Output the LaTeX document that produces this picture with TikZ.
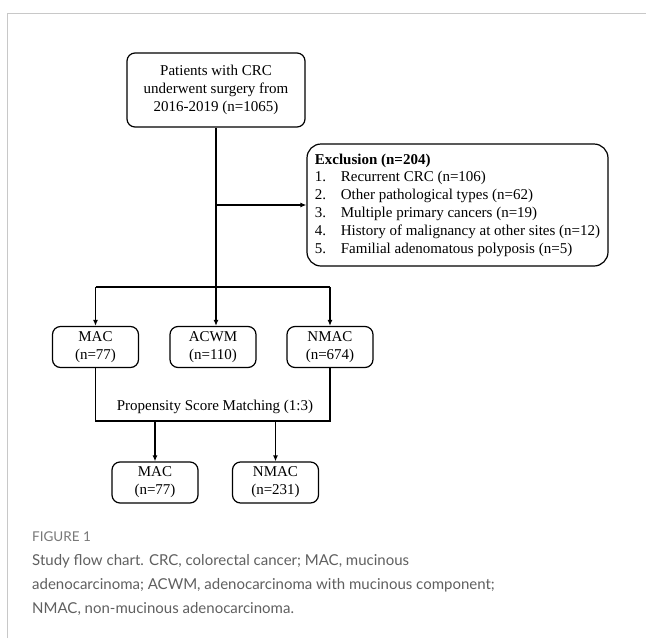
\documentclass[tikz,border=0pt]{standalone}
\usepackage{fontspec}
\setmainfont{Liberation Serif}
\newfontfamily\capfont{Lato}
\usetikzlibrary{positioning}
\usetikzlibrary{arrows.meta}

\definecolor{framegray}{RGB}{200,200,200}
\definecolor{capgray}{RGB}{95,95,95}
\definecolor{figgray}{RGB}{120,120,120}

\newcommand{\exitem}[2]{\makebox[26pt][l]{#1}#2}

\tikzset{
 flowbox/.style={draw, line width=1.2pt, rounded corners=8pt, align=center,
   minimum width=86pt, minimum height=41pt, inner sep=2pt,
   font=\fontsize{15}{18}\selectfont},
 flowline/.style={line width=1.2pt},
 flowarrow/.style={flowline, -{Latex[length=6pt,width=5pt]}},
}

\begin{document}
\begin{tikzpicture}[x=1pt,y=-1pt]
\useasboundingbox (0,0) rectangle (646,638);

%frame
\draw[framegray, line width=1pt] (7,638) -- (7,13) -- (646,13);

\node[flowbox, minimum width=178pt, minimum height=74pt] (pat) at (216,90)
{Patients with CRC\\underwent surgery from\\2016-2019 (n=1065)};

\node[flowbox, rounded corners=14pt, minimum width=301pt, minimum height=122pt,
  align=left, font=\fontsize{15}{17.8}\selectfont] (excl) at (457.5,205)
{\textbf{Exclusion (n=204)}\\
\exitem{1.}{Recurrent CRC (n=106)}\\
\exitem{2.}{Other pathological types (n=62)}\\
\exitem{3.}{Multiple primary cancers (n=19)}\\
\exitem{4.}{History of malignancy at other sites (n=12)}\\
\exitem{5.}{Familial adenomatous polyposis (n=5)}};

\node[flowbox] (mac) at (95.5,347) {MAC\\(n=77)};
\node[flowbox] (acwm) at (213,347) {ACWM\\(n=110)};
\node[flowbox] (nmac) at (330,347) {NMAC\\(n=674)};

\node[flowbox] (macm) at (155,482.5) {MAC\\(n=77)};
\node[flowbox] (nmacm) at (275.5,482.5) {NMAC\\(n=231)};

\node[font=\fontsize{15}{18}\selectfont] (psm) at (215,407)
{Propensity Score Matching (1:3)};

%connectors
\coordinate (side) at (216,205);
\coordinate (split) at (216,287);
\coordinate (match) at (216,421);

\draw[flowline] (pat.south) -- (split);
\draw[flowarrow] (side) -- (excl.west);
\draw[flowline] (mac.north |- split) -- (nmac.north |- split);
\draw[flowarrow] (mac.north |- split) -- (mac.north);
\draw[flowarrow] (split) -- (split |- acwm.north);
\draw[flowarrow] (nmac.north |- split) -- (nmac.north);

\draw[flowline] (mac.south) |- (match) -| (nmac.south);
\draw[flowarrow] (macm.north |- match) -- (macm.north);
\draw[flowarrow] (nmacm.north |- match) -- (nmacm.north);

%caption
\node[anchor=base west, inner sep=0pt, figgray,
  font=\capfont\fontsize{13.5}{16}\selectfont] (figno) at (32,541) {FIGURE 1};
\node[anchor=base west, inner sep=0pt, capgray, align=left,
  font=\capfont\fontsize{15}{24}\selectfont] (cap) at (32,613)
{Study flow chart. CRC, colorectal cancer; MAC, mucinous\\
adenocarcinoma; ACWM, adenocarcinoma with mucinous component;\\
NMAC, non-mucinous adenocarcinoma.};

\end{tikzpicture}
\end{document}
